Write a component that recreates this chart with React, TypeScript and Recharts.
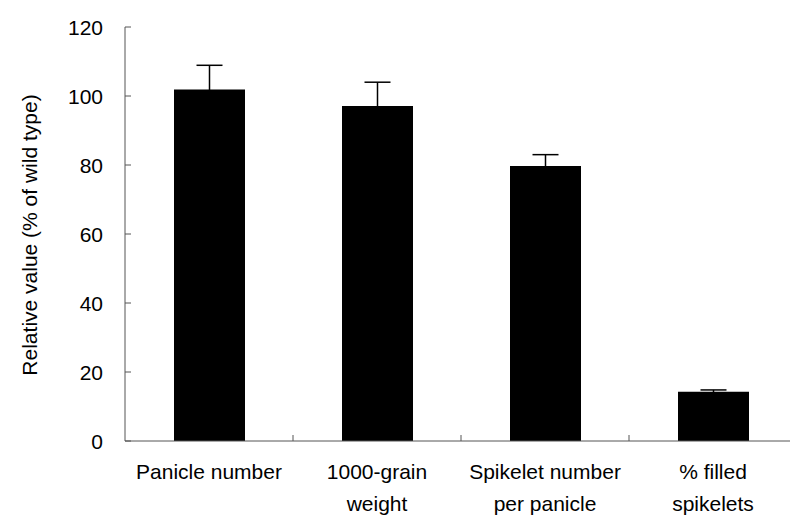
import React from 'react';
import { BarChart, Bar, XAxis, YAxis, ErrorBar } from 'recharts';

const categoryLabels = ['Panicle number', '1000-grain weight', 'Spikelet number per panicle', '% filled spikelets'];
const categoryLines = [['Panicle number'], ['1000-grain', 'weight'], ['Spikelet number', 'per panicle'], ['% filled', 'spikelets']];
const relativeValues = [101.9, 97.1, 79.7, 14.3];
const errorValues = [7.0, 6.9, 3.3, 0.5];
const yTicks = [0, 20, 40, 60, 80, 100, 120];
const yLabel = 'Relative value (% of wild type)';

const data = categoryLabels.map((name, i) => ({
  name,
  value: relativeValues[i],
  err: errorValues[i],
}));

const FONT = '"Liberation Sans", Arial, sans-serif';
const AXIS = '#555';
const CHART_W = 797;
const CHART_H = 518;
const Y_AXIS_W = 125;
const BAND = (CHART_W - Y_AXIS_W) / categoryLabels.length;

const XTick = (props: any) => {
  const { x, y, payload } = props;
  const lines = categoryLines[payload.index] || [payload.value];
  const bx = x + BAND / 2;
  return (
    <g>
      <line x1={bx} y1={y} x2={bx} y2={y - 6} stroke={AXIS} strokeWidth={1} />
      {lines.map((ln: string, i: number) => (
        <text key={i} x={x} y={y + 38 + i * 32} textAnchor="middle" fontFamily={FONT} fontSize={21} fill="#000">
          {ln}
        </text>
      ))}
    </g>
  );
};

const YTick = (props: any) => {
  const { x, y, payload } = props;
  return (
    <g>
      <line x1={x} y1={y} x2={x + 6} y2={y} stroke={AXIS} strokeWidth={1} />
      <text x={x - 22} y={y} dy="0.36em" textAnchor="end" fontFamily={FONT} fontSize={21} fill="#000">
        {payload.value}
      </text>
    </g>
  );
};

const YLabel = () => (
  <text x={37} y={235} transform="rotate(-90, 37, 235)" textAnchor="middle" fontFamily={FONT} fontSize={21} fill="#000">
    {yLabel}
  </text>
);

export default function App() {
  return (
    <div style={{ position: 'absolute', left: 0, top: 0, width: 790, height: 518, overflow: 'hidden', background: '#fff' }}>
      <BarChart width={CHART_W} height={CHART_H} data={data} margin={{ top: 27, right: 0, bottom: 0, left: 0 }}>
        <XAxis
          dataKey="name"
          height={77}
          axisLine={{ stroke: AXIS, strokeWidth: 1 }}
          tickLine={false}
          tickSize={0}
          tickMargin={0}
          interval={0}
          tick={<XTick />}
        />
        <YAxis
          width={Y_AXIS_W}
          domain={[0, 120]}
          ticks={yTicks}
          interval={0}
          axisLine={{ stroke: AXIS, strokeWidth: 1 }}
          tickLine={false}
          tickSize={0}
          tickMargin={0}
          tick={<YTick />}
          label={<YLabel />}
        />
        <Bar dataKey="value" fill="#000" barSize={71} isAnimationActive={false}>
          <ErrorBar dataKey="err" direction="y" width={13} stroke="#000" strokeWidth={1.5} />
        </Bar>
      </BarChart>
    </div>
  );
}
